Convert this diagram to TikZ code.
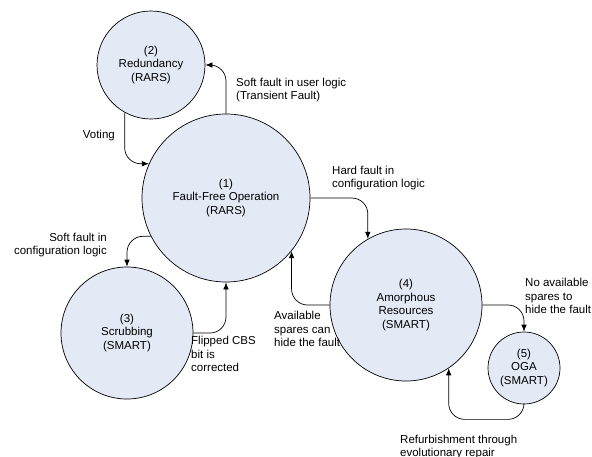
\documentclass[tikz,border=0pt]{standalone}
\usepackage{fontspec}
\setmainfont{Liberation Sans}
\usetikzlibrary{arrows.meta}

\definecolor{statefill}{RGB}{227,233,245}

\begin{document}
\begin{tikzpicture}[
    x=1pt,
    y=-1pt,
    >={Latex[length=7pt,width=5.5pt]},
    every node/.style={font=\fontsize{11.5}{13.8}\selectfont},
    state/.style={
        circle,
        draw=black,
        fill=statefill,
        line width=0.7pt,
        align=center,
        inner sep=0pt
    },
    conn/.style={
        ->,
        line width=0.7pt,
        rounded corners=16pt
    },
    lbl/.style={align=left, anchor=west, inner sep=0pt}
]

% ============================================================
% Rahmen
% ============================================================

\useasboundingbox (0,0) rectangle (592,456);

% ============================================================
% Zustaende
% ============================================================

\node[state, minimum size=108pt] (red) at (151,65)
    {(2)\\Redundancy\\(RARS)};

\node[state, minimum size=168pt] (ff) at (226,198)
    {(1)\\Fault-Free Operation\\(RARS)};

\node[state, minimum size=132pt] (scr) at (127,333)
    {(3)\\Scrubbing\\(SMART)};

\node[state, minimum size=152pt] (amo) at (406,305)
    {(4)\\Amorphous\\Resources\\(SMART)};

\node[state, minimum size=72pt] (oga) at (524,368)
    {(5)\\OGA\\(SMART)};

% ============================================================
% Uebergaenge
% ============================================================

% (1) -> (2)
\draw[conn] (ff.north) |- (red.east);

% (2) -> (1)
\draw[conn] (red.241) |- (ff.156);

% (1) -> (4)
\draw[conn] (ff.east) -| (amo.120);

% (1) -> (3)
\draw[conn] (ff.207) -| (scr.north);

% (3) -> (1)
\draw[conn] (scr.east) -| (ff.south);

% (4) -> (1)
\draw[conn] (amo.west) -| (ff.-39);

% (4) -> (5)
\draw[conn] (amo.east) -| (oga.north);

% (5) -> (4)
\draw[conn] (oga.south) -- ++(0,15) -| (amo.-56);

% ============================================================
% Beschriftungen
% ============================================================

\node[lbl] (lUser) at (236,90)
    {Soft fault in user logic\\(Transient Fault)};

\node[lbl, anchor=east] (lVote) at (115,136)
    {Voting};

\node[lbl] (lHard) at (332,178)
    {Hard fault in\\configuration logic};

\node[lbl, anchor=east, align=right] (lSoft) at (107,245)
    {Soft fault in\\configuration logic};

\node[lbl] (lFlip) at (191,354)
    {Flipped CBS\\bit is\\corrected};

\node[lbl] (lAvail) at (274,329)
    {Available\\spares can\\hide the fault};

\node[lbl] (lNone) at (525,296)
    {No available\\spares to\\hide the fault};

\node[lbl] (lRefurb) at (400,447)
    {Refurbishment through\\evolutionary repair};

\end{tikzpicture}
\end{document}
